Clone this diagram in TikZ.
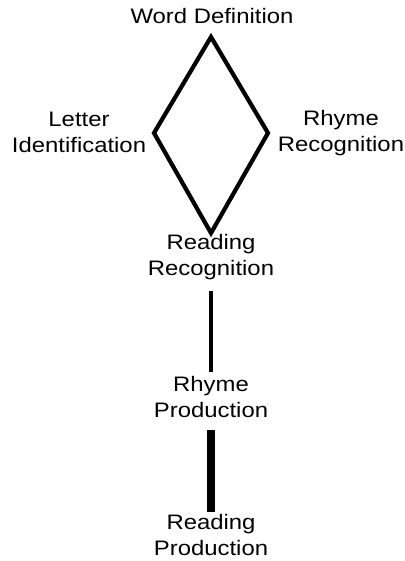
\documentclass[tikz,border=0pt]{standalone}
\usepackage{fontspec}
\setmainfont{Liberation Sans}[FakeStretch=1.14]
\usepackage{tikz}
\usetikzlibrary{calc,positioning}
\tikzset{
  skill/.style={align=center, inner sep=0pt,
                font=\fontsize{14.9}{18.4}\selectfont},
  rankline/.style={black, line width=3pt, line join=miter},
  linkthin/.style={black, line width=3.5pt},
  linkthick/.style={black, line width=5pt},
}

\begin{document}
\begin{tikzpicture}[x=0.025cm,y=-0.025cm]
  \path[use as bounding box] (0,0) rectangle (404,561);

  % Skill labels.
  \node[skill] (worddef) at (212,16) {Word Definition};
  \node[skill] (letterid) at (79,132) {Letter\\Identification};
  \node[skill] (rhymerec) at (341,133) {Rhyme\\Recognition};
  \node[skill] (readrec) at (211,257.5) {Reading\\Recognition};
  \node[skill] (rhymeprod) at (211,397) {Rhyme\\Production};
  \node[skill] (readprod) at (211,535) {Reading\\Production};

  % Diamond between the upper four.
  \draw[rankline]
    ($(worddef)+(-1,21)$) -- ($(letterid)+(75,1)$)
    -- ($(readrec)+(0,-24.5)$) -- ($(rhymerec)+(-73,0)$)
    -- cycle;

  % Chain below.
  \draw[linkthin] ($(readrec)+(0,33.5)$) -- ($(rhymeprod)+(0,-25)$);
  \draw[linkthick] ($(rhymeprod)+(0,33)$) -- ($(readprod)+(0,-23)$);
\end{tikzpicture}
\end{document}
